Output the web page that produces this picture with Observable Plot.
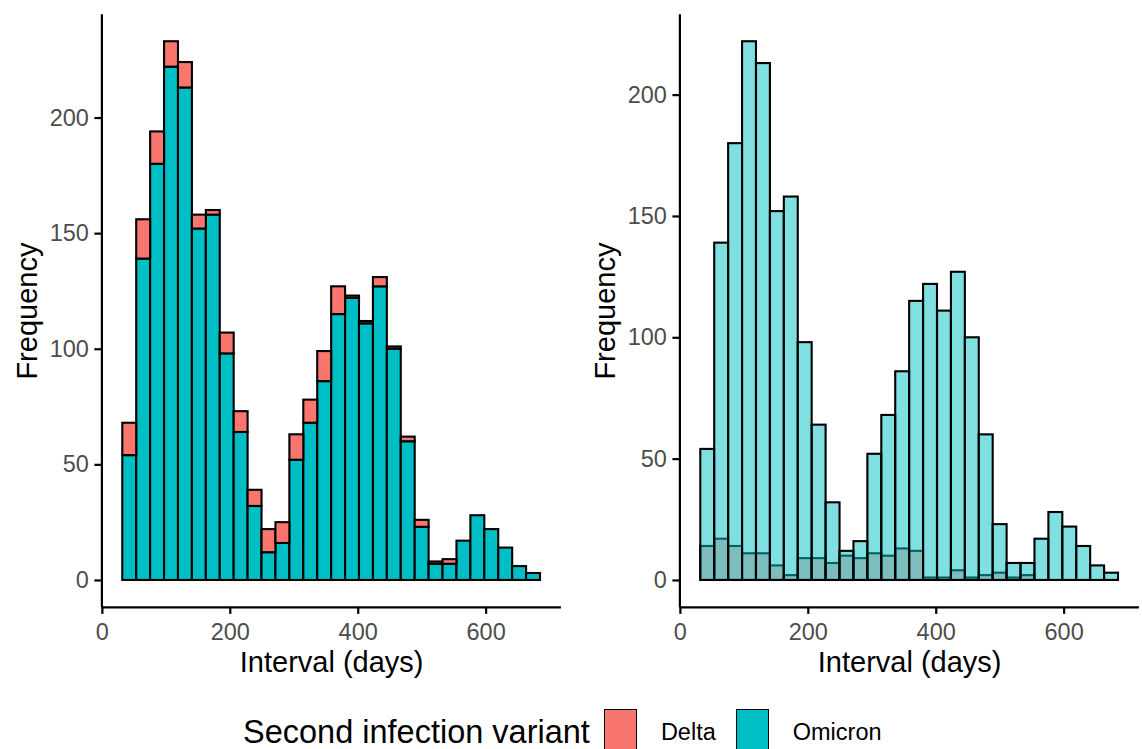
<!DOCTYPE html>
<html>
<head>
<meta charset="utf-8">
<script src="https://cdn.jsdelivr.net/npm/d3@7"></script>
<script src="https://cdn.jsdelivr.net/npm/@observablehq/plot@0.6"></script>
<style>
  html, body { margin: 0; padding: 0; background: #ffffff; }
  body { font-family: "Liberation Sans", Arial, sans-serif; }
  #wrap { position: relative; width: 1142px; height: 749px; overflow: hidden; background: #fff; }
  #row { display: flex; flex-direction: row; }
  #legend { position: absolute; left: 0; top: 680px; width: 1142px; height: 104px;
            display: flex; align-items: center; box-sizing: border-box; padding-left: 243px; }
  #legend .title { font-size: 32.5px; color: #000; margin-right: 14px; white-space: nowrap; }
  #legend .key { width: 31px; height: 44px; border: 1.5px solid #000; box-sizing: content-box; }
  #legend .lab { font-size: 23.5px; color: #000; white-space: nowrap; }
</style>
</head>
<body>
<div id="wrap">
  <div id="row"></div>
  <div id="legend"></div>
</div>
<script>
// ---- data ----
const binStart = 31.9;      // left edge of first bin (days)
const binWidth = 21.77;     // bin width (days), 30 bins
const omicronCounts = [54, 139, 180, 222, 213, 152, 158, 98, 64, 32, 12, 16, 52, 68, 86,
                       115, 122, 111, 127, 100, 60, 23, 7, 7, 17, 28, 22, 14, 6, 3];
const deltaCounts   = [14, 17, 14, 11, 11, 6, 2, 9, 9, 7, 10, 9, 11, 10, 13,
                       12, 1, 1, 4, 1, 2, 3, 1, 2, 0, 0, 0, 0, 0, 0];
const variants = ["Delta", "Omicron"];
const variantColors = ["#F8766D", "#00BFC4"];
const xTicks = [0, 200, 400, 600];
const yTicks = [0, 50, 100, 150, 200];
const xLabel = "Interval (days)";
const yLabel = "Frequency";
const legendTitle = "Second infection variant";

// ---- table built from the arrays ----
const bins = omicronCounts.map((o, i) => ({
  x1: binStart + i * binWidth,
  x2: binStart + (i + 1) * binWidth,
  omicron: o,
  delta: deltaCounts[i]
}));
const nBins = bins.length;
const xMin = binStart, xMax = binStart + nBins * binWidth;
const xExp = 0.05 * (xMax - xMin);
const xDomain = [xMin - xExp, xMax + xExp];

const FONT = '"Liberation Sans", Arial, sans-serif';
const H = 680, MT = 14.3, MB = H - 606.9;
const SW = 2.1;

function panel({width, marginLeft, marginRight, yMax, bars}) {
  const yDomain = [-0.05 * yMax, 1.05 * yMax];
  return Plot.plot({
    width, height: H,
    marginLeft, marginRight, marginTop: MT, marginBottom: MB,
    style: {fontFamily: FONT, background: "transparent", overflow: "visible", color: "#000"},
    x: {domain: xDomain},
    y: {domain: yDomain},
    marks: [
      ...bars,
      Plot.ruleX([xDomain[0]], {stroke: "#000", strokeWidth: 2.2}),
      Plot.ruleY([yDomain[0]], {stroke: "#000", strokeWidth: 2.2}),
      Plot.axisX({ticks: xTicks, tickSize: 7, tickPadding: 9, strokeWidth: 2.2, stroke: "#000",
                  fill: "#4D4D4D", fontSize: 23.5, label: null, tickFormat: d3.format("d")}),
      Plot.axisY({ticks: yTicks, tickSize: 7, tickPadding: 6, strokeWidth: 2.2, stroke: "#000",
                  fill: "#4D4D4D", fontSize: 23.5, label: null, tickFormat: d3.format("d")}),
      Plot.text([xLabel], {text: d => d, frameAnchor: "bottom", textAnchor: "middle",
                           lineAnchor: "middle", dy: 55, fontSize: 29, fill: "#000"}),
      Plot.text([yLabel], {text: d => d, frameAnchor: "left", textAnchor: "middle",
                           lineAnchor: "middle", rotate: -90, dx: -74.5, fontSize: 29, fill: "#000"})
    ]
  });
}

// Left: stacked (Omicron bottom, Delta on top)
const leftBars = [
  Plot.rectY(bins, {x1: "x1", x2: "x2", y1: 0, y2: "omicron",
                    fill: variantColors[1], stroke: "#000", strokeWidth: SW}),
  Plot.rectY(bins, {x1: "x1", x2: "x2", y1: "omicron", y2: d => d.omicron + d.delta,
                    fill: variantColors[0], stroke: "#000", strokeWidth: SW})
];
// Right: overlapping (identity) with alpha 0.5, Delta drawn first
const rightBars = [
  Plot.rectY(bins, {x1: "x1", x2: "x2", y1: 0, y2: "delta",
                    fill: variantColors[0], fillOpacity: 0.5, stroke: "#000", strokeWidth: SW}),
  Plot.rectY(bins, {x1: "x1", x2: "x2", y1: 0, y2: "omicron",
                    fill: variantColors[1], fillOpacity: 0.5, stroke: "#000", strokeWidth: SW})
];

const leftMax = d3.max(bins, d => d.omicron + d.delta);
const rightMax = d3.max(bins, d => Math.max(d.omicron, d.delta));

const row = document.getElementById("row");
row.append(panel({width: 578, marginLeft: 101.4, marginRight: 578 - 560.9, yMax: leftMax, bars: leftBars}));
row.append(panel({width: 564, marginLeft: 101.4, marginRight: 564 - 560.9, yMax: rightMax, bars: rightBars}));

// Legend
const legend = document.getElementById("legend");
const t = document.createElement("span");
t.className = "title"; t.textContent = legendTitle;
legend.append(t);
variants.forEach((v, i) => {
  const k = document.createElement("div");
  k.className = "key"; k.style.background = variantColors[i];
  k.style.marginRight = "24px";
  if (i > 0) k.style.marginLeft = "20px";
  const l = document.createElement("span");
  l.className = "lab"; l.textContent = v;
  legend.append(k, l);
});
</script>
</body>
</html>
